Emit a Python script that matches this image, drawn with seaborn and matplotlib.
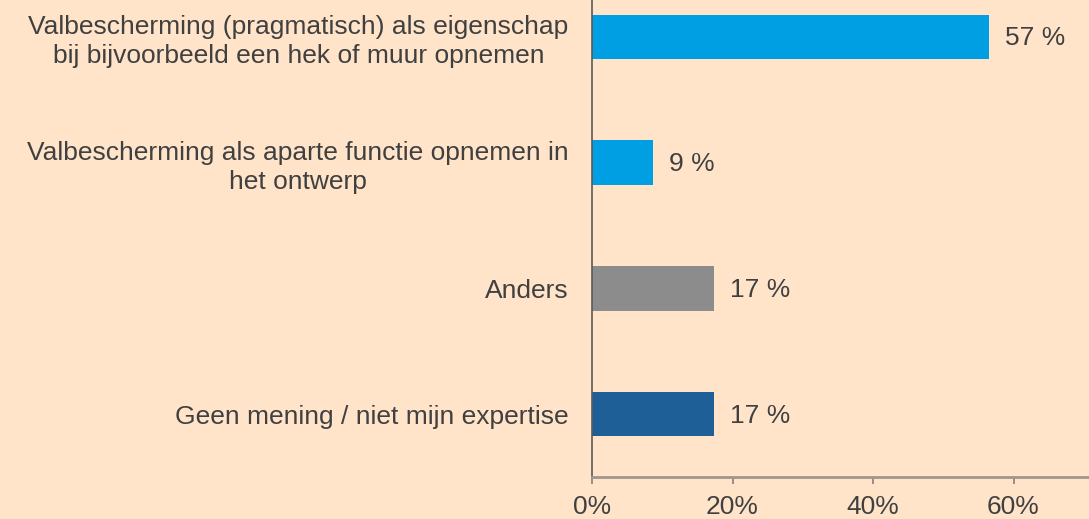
import matplotlib
matplotlib.use("Agg")
import matplotlib.pyplot as plt
import seaborn as sns
import pandas as pd
from matplotlib.ticker import FuncFormatter

# Survey answers (share of respondents, %)
categories = [
    "Valbescherming (pragmatisch) als eigenschap\nbij bijvoorbeeld een hek of muur opnemen",
    "Valbescherming als aparte functie opnemen in\nhet ontwerp",
    "Anders",
    "Geen mening / niet mijn expertise",
]
values = [56.52, 8.70, 17.39, 17.39]
bar_colors = ["#009FE3", "#009FE3", "#8C8C8C", "#1F5F98"]
x_ticks = [0, 20, 40, 60]

bg = "#FFE4CA"
text_color = "#404040"

sns.set_theme(style="white")
plt.rcParams["font.family"] = ["Liberation Sans", "DejaVu Sans"]

df = pd.DataFrame({"categorie": categories, "percentage": values})

fig = plt.figure(figsize=(10.89, 5.19), dpi=100, facecolor=bg)
ax = fig.add_axes([592 / 1089, 1 - 477 / 519, 1 - 592 / 1089, (477 + 26) / 519])
ax.set_facecolor(bg)

sns.barplot(
    data=df, x="percentage", y="categorie", hue="categorie",
    palette=bar_colors, orient="h", width=0.355, legend=False,
    saturation=1, linewidth=0, ax=ax,
)

ax.set_xlim(0, (1089 - 592) / (140.5 / 20))
ax.set_xticks(x_ticks)
ax.xaxis.set_major_formatter(FuncFormatter(lambda v, _: f"{v:.0f}%"))
ax.set_xlabel("")
ax.set_ylabel("")

# Value labels next to each bar
for i, v in enumerate(values):
    ax.text(v + 2.2, i + 0.012, f"{v:.0f} %", va="center", ha="left",
            fontsize=19, color=text_color)

for spine in ["top", "right"]:
    ax.spines[spine].set_visible(False)
ax.spines["left"].set_color("#5A5A5A")
ax.spines["left"].set_linewidth(1.2)
ax.spines["bottom"].set_color("#A0968C")
ax.spines["bottom"].set_linewidth(2.0)

ax.tick_params(axis="x", bottom=True, length=5, width=1.2, color="#808080",
               labelsize=19, labelcolor=text_color, pad=8)
ax.tick_params(axis="y", left=False, labelsize=19, labelcolor=text_color, pad=11)
for lbl in ax.get_yticklabels():
    lbl.set_multialignment("center")
    lbl.set_linespacing(1.25)

fig.savefig("out.png", dpi=100, facecolor=bg)
